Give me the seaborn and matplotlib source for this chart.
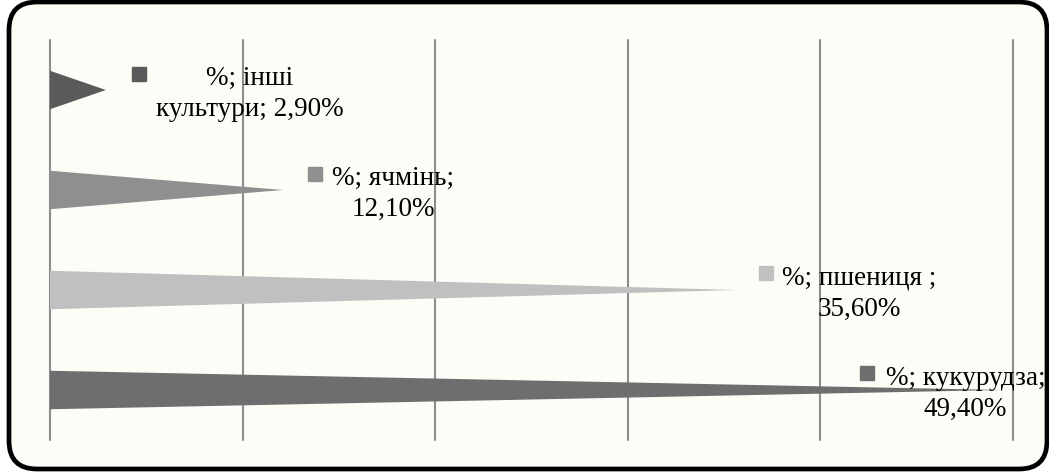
import matplotlib
matplotlib.use("Agg")
import matplotlib.pyplot as plt
import matplotlib.transforms as mtransforms
from matplotlib.patches import Polygon, FancyBboxPatch
import seaborn as sns

# ── data ───────────────────────────────────────────────────
crops = ['інші культури', 'ячмінь', 'пшениця ', 'кукурудза']
shares = [2.9, 12.1, 35.6, 49.4]
label_lines = ['%; інші\nкультури; {}', '%; ячмінь;\n{}', '%; пшениця ;\n{}', '%; кукурудза;\n{}']
colors = ['#5a5a5a', '#8f8f8f', '#c0c0c0', '#6e6e6e']
x_ticks = [0, 10, 20, 30, 40, 50]

# label placement relative to bar tip (pixels): text dx, dy ; square dx, dy
text_off = [(144, 4), (110, 4), (124, 4), (-36, 4)]
square_off = [(33, 16), (32, 16), (30, 17), (-134, 17)]

sns.set_style("white")
plt.rcParams['font.family'] = ['Liberation Serif', 'DejaVu Serif']

fig = plt.figure(figsize=(10.49, 4.74), dpi=100)
fig.patch.set_facecolor('white')

# rounded frame (pixel coords)
frame = FancyBboxPatch((9, 5), 1038, 467, boxstyle='round,pad=0,rounding_size=28',
                       transform=mtransforms.IdentityTransform(),
                       facecolor='#fdfdf7', edgecolor='black', linewidth=3.4, zorder=0)
fig.add_artist(frame)

ax = fig.add_axes([50 / 1049, 34 / 474, 963 / 1049, 400 / 474])
ax.set_facecolor('none')

sns.barplot(x=shares, y=crops, hue=crops, palette=colors, orient='h',
            width=0.385, legend=False, ax=ax)

# turn the bars into cones (triangles)
for cont in ax.containers:
    for p in cont:
        x0, y0, w, h = p.get_x(), p.get_y(), p.get_width(), p.get_height()
        tri = Polygon([(x0, y0), (x0 + w, y0 + h / 2), (x0, y0 + h)],
                      closed=True, facecolor=p.get_facecolor(), edgecolor='none', zorder=3)
        ax.add_patch(tri)
        p.set_visible(False)

ax.set_xlim(0, 50)
ax.set_ylim(3.5, -0.5)
ax.set_xticks(x_ticks)
ax.set_xticklabels([])
ax.set_yticks([])
ax.set_xlabel('')
ax.set_ylabel('')
ax.tick_params(length=0)
for s in ax.spines.values():
    s.set_visible(False)
ax.grid(axis='x', color='#8c8c8c', linewidth=1.5)
ax.set_axisbelow(True)
for gl in ax.get_xgridlines():
    gl.set_clip_on(False)

# data labels
for i, (v, lab) in enumerate(zip(shares, label_lines)):
    txt = lab.format(f"{v:.2f}".replace('.', ',') + '%')
    tdx, tdy = text_off[i]
    sdx, sdy = square_off[i]
    ttrans = mtransforms.offset_copy(ax.transData, fig=fig, x=tdx, y=-tdy, units='dots')
    ax.text(v, i, txt, transform=ttrans, ha='center', va='center',
            multialignment='center', fontsize=19.5, linespacing=1.32,
            color='black', zorder=5)
    strans = mtransforms.offset_copy(ax.transData, fig=fig, x=sdx, y=sdy, units='dots')
    ax.plot([v], [i], marker='s', markersize=10, color=colors[i], transform=strans,
            clip_on=False, zorder=5)

plt.savefig('out.png', dpi=100)
